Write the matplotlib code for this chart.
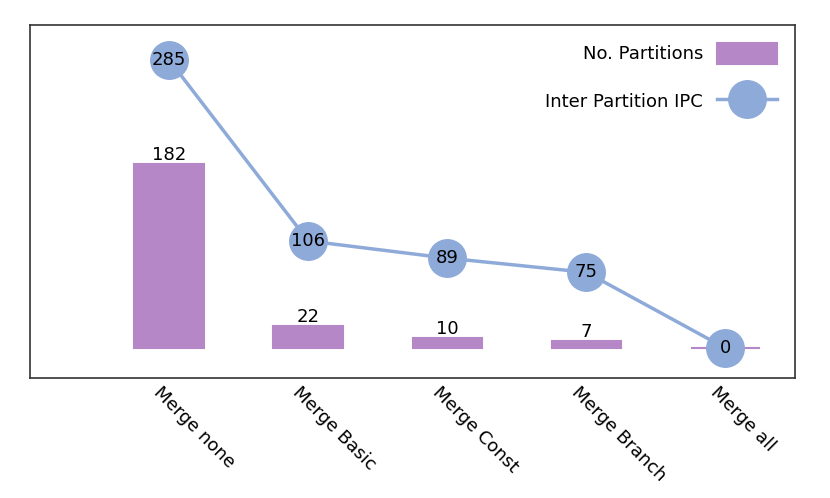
import matplotlib.pyplot as plt
import matplotlib.transforms as mtransforms
import numpy as np

# configurations and measured values
configs = ['Merge none', 'Merge Basic', 'Merge Const', 'Merge Branch', 'Merge all']
partitions = [182, 22, 10, 7, 0]
ipc = [285, 106, 89, 75, 0]

bar_color = '#b587c6'
line_color = '#8eaad9'

x = np.arange(len(configs))

fig = plt.figure(figsize=(8.3, 4.98), dpi=100)
ax = fig.add_axes([30 / 830, 1 - 378 / 498, 765 / 830, 353 / 498])

bars = ax.bar(x, partitions, width=0.5, color=bar_color, edgecolor=bar_color,
              linewidth=1.5, label='No. Partitions')
for xi, v in zip(x, partitions):
    if v > 0:
        ax.text(xi, v, str(v), ha='center', va='bottom', fontsize=13)

line, = ax.plot(x, ipc, color=line_color, linewidth=2.5, marker='o', markersize=27,
                label='Inter Partition IPC')
for xi, v in zip(x, ipc):
    ax.text(xi, v, str(v), ha='center', va='center', fontsize=13)

ax.set_xlim(-1.0, 4.5)
ax.set_ylim(-29.5, 319.5)
ax.set_yticks([])
ax.set_xticks(x)
ax.set_xticklabels(configs, rotation=-45, ha='left', rotation_mode='anchor',
                   fontsize=13)
ax.tick_params(axis='x', length=0, pad=4)
shift = mtransforms.ScaledTranslation(-6 / 100, 0, fig.dpi_scale_trans)
for lab in ax.get_xticklabels():
    lab.set_transform(lab.get_transform() + shift)
for s in ax.spines.values():
    s.set_color('#333333')
    s.set_linewidth(1.2)

ax.legend([bars, line], ['No. Partitions', 'Inter Partition IPC'],
          loc='upper right', frameon=False, fontsize=13, markerfirst=False,
          handlelength=3.3, handleheight=1.4, labelspacing=1.5,
          borderaxespad=0.6)

fig.savefig('out.png', dpi=100)
